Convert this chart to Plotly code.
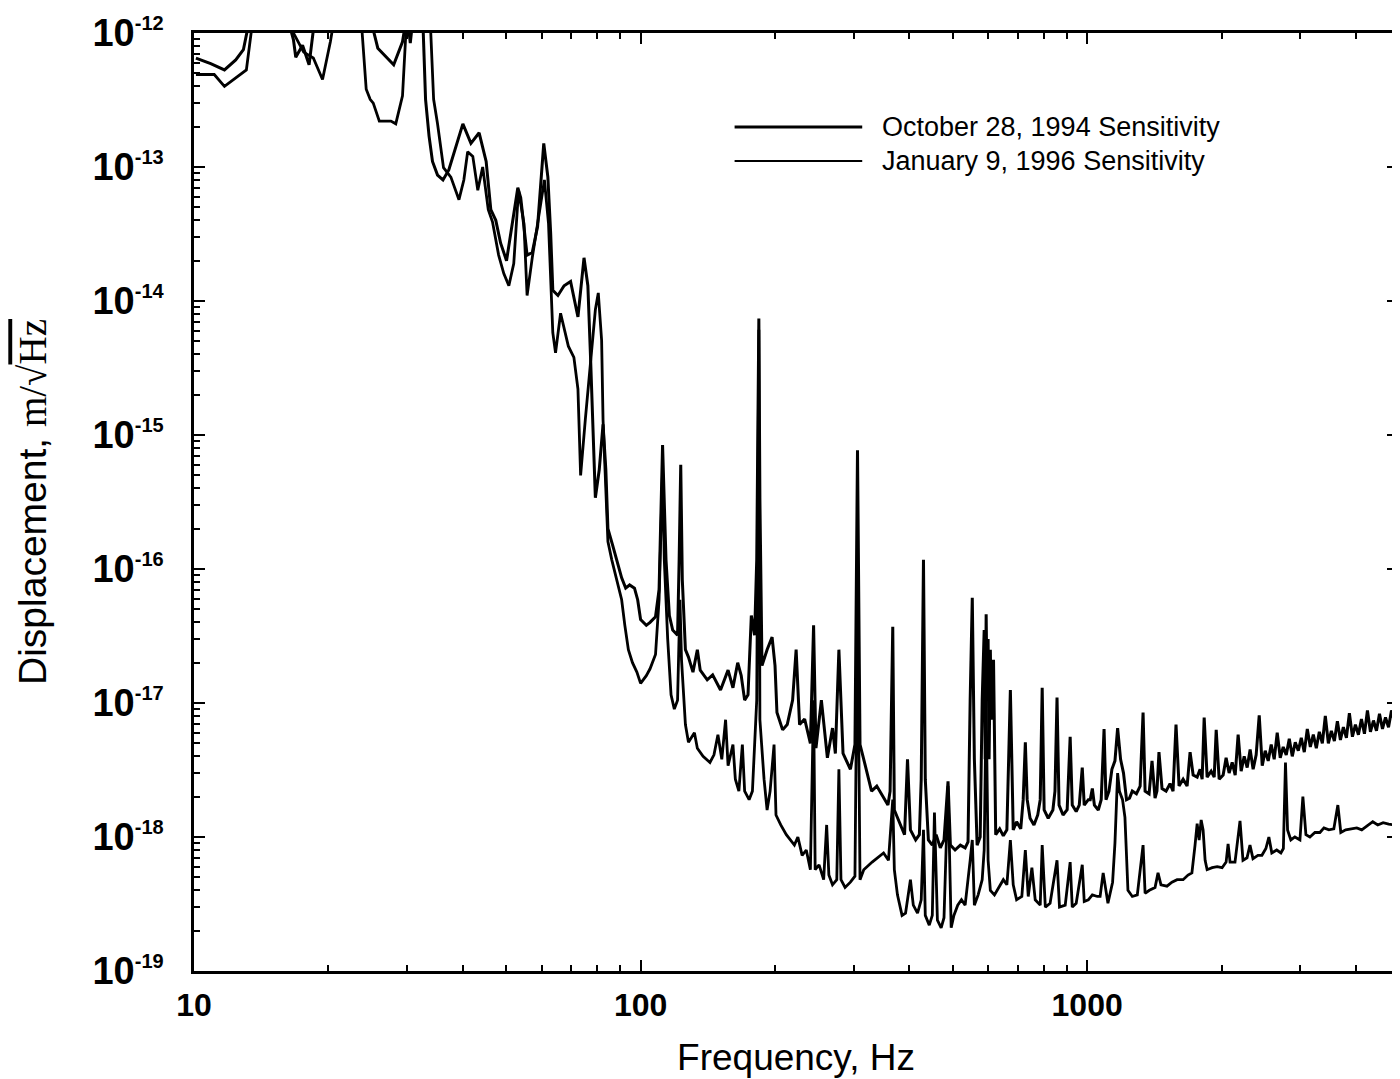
import math
import plotly.graph_objects as go

# October 28, 1994 sensitivity: (frequency in Hz, displacement in m/sqrt(Hz))
oct1994 = [
    (10.1, 6.5e-13), (10.9, 5.9e-13), (11.7, 5.3e-13), (12.4, 6.3e-13), (12.9, 7.5e-13),
    (13.4, 1.4e-12), (16.1, 1.4e-12), (16.7, 8.9e-13), (16.9, 6.6e-13), (17.5, 8.1e-13),
    (18.1, 5.8e-13), (18.7, 1.4e-12), (24.9, 1.4e-12), (25.3, 1.0e-12), (25.8, 7.7e-13),
    (26.9, 6.6e-13), (28.0, 5.8e-13), (29.3, 8.6e-13), (30.0, 1.4e-12), (30.5, 8.4e-13),
    (31.0, 1.4e-12), (32.5, 1.4e-12), (33.0, 3.2e-13), (33.6, 1.7e-13), (34.2, 1.1e-13),
    (35.1, 8.7e-14), (36.1, 8.0e-14), (37.2, 9.5e-14), (38.5, 1.4e-13), (40.0, 2.1e-13),
    (41.7, 1.5e-13), (43.5, 1.8e-13), (45.1, 1.1e-13), (46.2, 4.8e-14), (47.4, 4.0e-14),
    (48.6, 2.7e-14), (50.1, 2.0e-14), (51.7, 3.8e-14), (53.1, 7.0e-14), (53.9, 5.9e-14),
    (55.7, 2.2e-14), (57.2, 2.3e-14), (58.8, 3.6e-14), (60.7, 1.5e-13), (62.0, 8.4e-14),
    (62.9, 3.2e-14), (63.6, 1.2e-14), (65.3, 1.1e-14), (67.4, 1.3e-14), (69.7, 1.4e-14),
    (72.4, 7.6e-15), (74.7, 2.1e-14), (76.2, 1.3e-14), (77.3, 3.6e-15), (78.5, 9.2e-16),
    (79.2, 3.4e-16), (80.8, 5.5e-16), (82.4, 1.2e-15), (83.6, 5.5e-16), (84.5, 2.0e-16),
    (86.6, 1.5e-16), (88.9, 1.07e-16), (90.7, 8.6e-17), (92.6, 7.2e-17), (94.5, 7.6e-17),
    (96.9, 7.2e-17), (98.5, 5.9e-17), (100, 4.2e-17), (103, 3.8e-17), (105, 4.0e-17),
    (108, 4.4e-17), (110, 7.0e-17), (111, 2.3e-16), (112, 8.4e-16), (114, 1.17e-16),
    (116, 4.5e-17), (118, 3.5e-17), (121, 3.2e-17), (122, 1.17e-16), (123, 6.0e-16),
    (124, 8.3e-17), (126, 2.5e-17), (128, 2.2e-17), (131, 1.7e-17), (134, 2.5e-17),
    (136, 1.76e-17), (141, 1.49e-17), (145, 1.62e-17), (151, 1.25e-17), (157, 1.76e-17),
    (161, 1.3e-17), (165, 2.0e-17), (168, 1.6e-17), (171, 1.05e-17), (174, 1.15e-17),
    (177, 4.5e-17), (180, 3.2e-17), (182, 1.17e-16), (184, 7.4e-15), (185, 3.3e-16),
    (187, 1.9e-17), (192, 2.5e-17), (197, 3.1e-17), (200, 1.9e-17), (202, 8.5e-18),
    (208, 6.3e-18), (213, 6.9e-18), (219, 1.05e-17), (223, 2.5e-17), (227, 6.9e-18),
    (233, 7.6e-18), (240, 5.0e-18), (244, 3.8e-17), (247, 4.6e-18), (254, 1.05e-17),
    (262, 3.9e-18), (269, 6.5e-18), (273, 4.2e-18), (278, 2.5e-17), (284, 4.2e-18),
    (295, 3.2e-18), (302, 4.9e-18), (306, 7.7e-16), (310, 4.9e-18), (316, 3.8e-18),
    (329, 2.2e-18), (338, 2.4e-18), (352, 1.9e-18), (358, 1.73e-18), (362, 2.2e-18),
    (367, 3.7e-17), (370, 1.59e-18), (382, 1.23e-18), (390, 1.04e-18), (396, 3.8e-18),
    (402, 1.13e-18), (413, 9.5e-19), (421, 1.04e-18), (425, 2.7e-18), (430, 1.17e-16),
    (434, 2.7e-18), (441, 9.5e-19), (450, 8.7e-19), (459, 1.04e-18), (469, 8.3e-19),
    (478, 9.5e-19), (488, 2.6e-18), (494, 8.7e-19), (506, 8.0e-19), (520, 8.7e-19),
    (533, 8.3e-19), (541, 9.2e-19), (547, 1.05e-17), (553, 6.1e-17), (559, 3.8e-18),
    (567, 8.7e-19), (576, 1.0e-18), (582, 1.05e-17), (588, 3.5e-17), (591, 3.8e-18),
    (594, 4.6e-17), (597, 1.05e-17), (600, 3.0e-17), (603, 3.8e-18), (607, 2.5e-17),
    (610, 7.5e-18), (617, 2.1e-17), (624, 1.04e-18), (637, 1.15e-18), (649, 1.02e-18),
    (661, 1.13e-18), (673, 1.25e-17), (683, 1.13e-18), (695, 1.3e-18), (710, 1.15e-18),
    (719, 1.9e-18), (727, 5.1e-18), (734, 1.9e-18), (745, 1.38e-18), (760, 1.23e-18),
    (775, 1.46e-18), (785, 1.9e-18), (793, 1.3e-17), (801, 1.59e-18), (818, 1.38e-18),
    (838, 1.59e-18), (847, 2.2e-18), (856, 1.1e-17), (865, 1.73e-18), (883, 1.46e-18),
    (902, 1.6e-18), (916, 5.6e-18), (926, 1.73e-18), (945, 1.55e-18), (960, 1.73e-18),
    (975, 3.3e-18), (985, 1.73e-18), (1006, 1.9e-18), (1016, 1.9e-18), (1027, 2.3e-18),
    (1038, 1.73e-18), (1059, 1.59e-18), (1075, 1.9e-18), (1091, 6.4e-18), (1102, 1.9e-18),
    (1119, 2.2e-18), (1136, 3.2e-18), (1154, 3.7e-18), (1170, 6.5e-18), (1188, 3.8e-18),
    (1206, 3.0e-18), (1225, 1.9e-18), (1244, 1.95e-18), (1262, 2.2e-18), (1289, 2.1e-18),
    (1314, 2.4e-18), (1334, 8.5e-18), (1348, 2.2e-18), (1376, 2.1e-18), (1397, 3.7e-18),
    (1419, 1.95e-18), (1433, 2.2e-18), (1448, 4.3e-18), (1471, 2.3e-18), (1502, 2.2e-18),
    (1533, 2.5e-18), (1557, 2.2e-18), (1581, 6.9e-18), (1606, 2.4e-18), (1640, 2.7e-18),
    (1674, 2.4e-18), (1700, 4.3e-18), (1727, 2.9e-18), (1763, 2.8e-18), (1790, 3.2e-18),
    (1809, 2.7e-18), (1828, 7.8e-18), (1856, 2.8e-18), (1895, 3.1e-18), (1925, 2.8e-18),
    (1945, 6.3e-18), (1975, 2.7e-18), (2016, 2.9e-18), (2047, 3.9e-18), (2079, 3.0e-18),
    (2112, 3.6e-18), (2145, 2.9e-18), (2178, 5.8e-18), (2212, 3.1e-18), (2247, 4.0e-18),
    (2282, 3.3e-18), (2317, 4.5e-18), (2353, 3.2e-18), (2390, 4.1e-18), (2428, 8.1e-18),
    (2466, 3.4e-18), (2504, 4.4e-18), (2543, 3.7e-18), (2583, 4.9e-18), (2623, 3.8e-18),
    (2664, 6.0e-18), (2706, 3.9e-18), (2748, 4.7e-18), (2791, 4.1e-18), (2835, 5.4e-18),
    (2879, 4.0e-18), (2924, 5.1e-18), (2970, 4.4e-18), (3016, 5.5e-18), (3063, 4.3e-18),
    (3111, 6.4e-18), (3160, 4.7e-18), (3209, 5.8e-18), (3259, 4.6e-18), (3310, 6.1e-18),
    (3362, 5.0e-18), (3414, 8.0e-18), (3468, 5.0e-18), (3522, 6.2e-18), (3577, 5.2e-18),
    (3633, 7.3e-18), (3690, 5.3e-18), (3747, 6.6e-18), (3806, 5.5e-18), (3865, 8.4e-18),
    (3926, 5.6e-18), (3987, 6.9e-18), (4049, 5.8e-18), (4113, 7.6e-18), (4177, 5.9e-18),
    (4242, 8.8e-18), (4308, 6.1e-18), (4376, 7.4e-18), (4444, 6.2e-18), (4514, 8.3e-18),
    (4584, 6.4e-18), (4656, 7.8e-18), (4729, 6.6e-18), (4802, 8.8e-18), (4878, 7.2e-18),
    (4954, 9.0e-18),
]

# January 9, 1996 sensitivity: (frequency in Hz, displacement in m/sqrt(Hz))
jan1996 = [
    (10.1, 4.9e-13), (10.5, 4.9e-13), (11.1, 4.9e-13), (11.7, 4.0e-13), (12.4, 4.6e-13),
    (13.1, 5.3e-13), (13.6, 1.4e-12), (16.3, 1.4e-12), (16.7, 1.0e-12), (17.6, 7.2e-13),
    (18.5, 6.5e-13), (19.4, 4.5e-13), (20.2, 8.6e-13), (20.7, 1.4e-12), (23.4, 1.4e-12),
    (23.8, 1.0e-12), (24.3, 3.8e-13), (24.8, 3.2e-13), (25.2, 3.0e-13), (26.0, 2.2e-13),
    (26.9, 2.2e-13), (27.6, 2.2e-13), (28.3, 2.1e-13), (29.3, 3.4e-13), (29.8, 9.7e-13),
    (30.1, 1.4e-12), (33.6, 1.4e-12), (33.9, 1.0e-12), (34.4, 3.2e-13), (35.1, 2.1e-13),
    (36.2, 9.9e-14), (37.6, 8.4e-14), (39.2, 5.7e-14), (40.2, 8.0e-14), (41.0, 1.3e-13),
    (42.1, 1.2e-13), (43.2, 6.7e-14), (44.3, 1.0e-13), (45.6, 4.8e-14), (46.6, 3.9e-14),
    (48.1, 2.2e-14), (49.4, 1.6e-14), (50.7, 1.3e-14), (52.0, 1.9e-14), (53.3, 6.7e-14),
    (54.8, 3.8e-14), (55.7, 1.1e-14), (57.2, 2.1e-14), (59.8, 5.4e-14), (60.9, 8.0e-14),
    (62.2, 3.8e-14), (63.6, 5.8e-15), (64.5, 4.1e-15), (66.2, 8.1e-15), (68.9, 4.6e-15),
    (70.9, 3.8e-15), (72.4, 2.2e-15), (73.4, 5.0e-16), (75.2, 1.3e-15), (77.3, 3.6e-15),
    (79.2, 8.6e-15), (80.4, 1.15e-14), (81.8, 5.1e-15), (82.4, 1.3e-15), (83.3, 4.6e-16),
    (84.5, 1.6e-16), (86.2, 1.17e-16), (88.5, 8.3e-17), (90.7, 5.9e-17), (92.2, 3.8e-17),
    (93.9, 2.5e-17), (95.9, 2.0e-17), (98.1, 1.7e-17), (100, 1.4e-17), (103, 1.6e-17),
    (105, 1.8e-17), (108, 2.3e-17), (110, 5.9e-17), (111, 2.3e-16), (112, 5.5e-16),
    (113, 1.17e-16), (115, 3.0e-17), (117, 1.15e-17), (119, 9.0e-18), (121, 1.05e-17),
    (122, 3.0e-17), (122.5, 5.9e-17), (123.5, 2.1e-17), (126, 6.9e-18), (128, 5.1e-18),
    (132, 6.0e-18), (134, 4.6e-18), (138, 4.0e-18), (143, 3.6e-18), (146, 4.1e-18),
    (149, 5.8e-18), (152, 3.8e-18), (155, 7.5e-18), (157, 3.4e-18), (161, 4.9e-18),
    (163, 2.7e-18), (166, 2.2e-18), (169, 4.9e-18), (171, 2.2e-18), (175, 1.9e-18),
    (178, 2.2e-18), (180, 4.5e-18), (182, 1.05e-17), (184, 6.1e-15), (185, 7.5e-18),
    (189, 2.7e-18), (192, 1.59e-18), (195, 2.2e-18), (199, 4.9e-18), (201, 1.46e-18),
    (206, 1.23e-18), (212, 1.04e-18), (217, 9.5e-19), (221, 8.7e-19), (225, 1.0e-18),
    (230, 7.3e-19), (235, 8.0e-19), (240, 5.7e-19), (244, 1.05e-17), (246, 5.7e-19),
    (251, 6.2e-19), (257, 4.8e-19), (261, 1.23e-18), (264, 5.2e-19), (269, 4.4e-19),
    (275, 4.8e-19), (278, 3.2e-18), (281, 4.8e-19), (287, 4.2e-19), (295, 4.6e-19),
    (302, 5.1e-19), (306, 5.9e-17), (310, 4.8e-19), (316, 5.7e-19), (330, 6.5e-19),
    (342, 7.1e-19), (350, 7.6e-19), (359, 6.7e-19), (367, 1.9e-18), (370, 5.7e-19),
    (376, 3.7e-19), (385, 2.6e-19), (392, 2.7e-19), (402, 4.8e-19), (408, 3.1e-19),
    (417, 2.7e-19), (425, 3.4e-19), (430, 1.13e-18), (434, 2.6e-19), (443, 2.2e-19),
    (450, 2.6e-19), (455, 1.52e-18), (462, 2.4e-19), (471, 2.1e-19), (478, 2.5e-19),
    (488, 2.4e-18), (496, 2.1e-19), (503, 2.6e-19), (513, 3.1e-19), (523, 3.4e-19),
    (533, 3.1e-19), (547, 6.7e-19), (553, 9.5e-19), (559, 3.1e-19), (570, 3.7e-19),
    (582, 4.8e-19), (588, 8.0e-19), (594, 1.05e-17), (600, 6.7e-19), (607, 4.0e-19),
    (620, 3.7e-19), (634, 4.2e-19), (649, 4.8e-19), (661, 4.4e-19), (673, 9.5e-19),
    (683, 4.4e-19), (695, 3.4e-19), (714, 3.6e-19), (727, 8.0e-19), (738, 3.6e-19),
    (752, 5.9e-19), (765, 3.4e-19), (785, 3.1e-19), (793, 8.7e-19), (806, 3.0e-19),
    (826, 3.2e-19), (856, 6.7e-19), (867, 3.0e-19), (893, 3.1e-19), (916, 6.5e-19),
    (926, 3.0e-19), (945, 3.2e-19), (975, 6.2e-19), (985, 3.3e-19), (1006, 3.4e-19),
    (1027, 3.7e-19), (1054, 3.6e-19), (1069, 3.6e-19), (1086, 5.4e-19), (1113, 3.2e-19),
    (1140, 4.6e-19), (1154, 9.0e-19), (1170, 3.0e-18), (1181, 2.2e-18), (1200, 1.9e-18),
    (1215, 1.4e-18), (1234, 4.0e-19), (1262, 3.6e-19), (1295, 3.7e-19), (1334, 8.7e-19),
    (1348, 3.8e-19), (1378, 4.0e-19), (1419, 4.2e-19), (1441, 5.4e-19), (1463, 4.4e-19),
    (1509, 4.3e-19), (1548, 4.6e-19), (1590, 4.8e-19), (1640, 4.8e-19), (1682, 5.2e-19),
    (1716, 5.4e-19), (1744, 8.7e-19), (1763, 1.26e-18), (1781, 9.5e-19), (1800, 1.34e-18),
    (1818, 1.13e-18), (1837, 6.7e-19), (1856, 5.7e-19), (1905, 5.9e-19), (1955, 6.0e-19),
    (2005, 5.9e-19), (2047, 6.5e-19), (2068, 8.9e-19), (2089, 6.5e-19), (2143, 6.5e-19),
    (2199, 1.32e-18), (2233, 6.7e-19), (2280, 7.0e-19), (2315, 8.7e-19), (2351, 6.9e-19),
    (2412, 7.3e-19), (2462, 7.3e-19), (2513, 8.2e-19), (2552, 1.0e-18), (2591, 7.6e-19),
    (2657, 8.0e-19), (2715, 7.6e-19), (2750, 8.2e-19), (2780, 3.6e-18), (2810, 1.13e-18),
    (2858, 9.5e-19), (2918, 1.0e-18), (2995, 9.5e-19), (3041, 2.0e-18), (3089, 1.04e-18),
    (3153, 1.0e-18), (3236, 1.08e-18), (3320, 1.08e-18), (3390, 1.17e-18), (3477, 1.13e-18),
    (3567, 1.15e-18), (3642, 1.73e-18), (3698, 1.08e-18), (3793, 1.13e-18), (3913, 1.15e-18),
    (4015, 1.17e-18), (4120, 1.13e-18), (4228, 1.2e-18), (4360, 1.3e-18), (4474, 1.23e-18),
    (4600, 1.28e-18), (4733, 1.25e-18), (4860, 1.23e-18), (4966, 9.5e-19),
]

series_names = ["October 28, 1994 Sensitivity", "January 9, 1996 Sensitivity"]
x_range_hz = [10, 4966]
x_tick_vals = [10, 100, 1000]
x_tick_text = ["10", "100", "1000"]
y_exponents = [-19, -18, -17, -16, -15, -14, -13, -12]

SANS = "Liberation Sans, Arial, Helvetica, sans-serif"

y_tick_vals = [10.0 ** e for e in y_exponents]
y_tick_text = ["10<sup><span style='font-size:20px'>%d</span></sup>" % e for e in y_exponents]
y_minor_vals = [m * 10.0 ** e for e in y_exponents[:-1] for m in range(2, 10)]
x_minor_vals = [m * 10.0 ** e for e in (1, 2, 3) for m in range(2, 10) if m * 10.0 ** e < x_range_hz[1]]

fig = go.Figure()
for name, data, width in [(series_names[0], oct1994, 3.0), (series_names[1], jan1996, 2.8)]:
    f = [p[0] for p in data]
    d = [p[1] for p in data]
    fig.add_trace(go.Scatter(x=f, y=d, mode="lines", name=name,
                             line=dict(color="black", width=width)))

axis_common = dict(
    type="log", tickmode="array",
    ticks="inside", ticklen=11, tickwidth=2, tickcolor="black",
    showline=True, linewidth=2.5, linecolor="black", mirror="ticks",
    showgrid=False, zeroline=False, automargin=False,
    ticklabeloverflow="allow",
)

fig.update_xaxes(
    **axis_common,
    range=[math.log10(x_range_hz[0]), math.log10(x_range_hz[1])],
    tickvals=x_tick_vals, ticktext=x_tick_text,
    minor=dict(tickmode="array", tickvals=x_minor_vals, ticks="inside", ticklen=6,
               tickwidth=1.5, tickcolor="black", showgrid=False),
    tickfont=dict(size=32, family=SANS, color="black", weight="bold"),
    ticklabelstandoff=4,
    title=dict(text="Frequency, Hz", font=dict(size=37, family=SANS, color="black"),
               standoff=22),
)
fig.update_yaxes(
    **axis_common,
    range=[-19, -12],
    tickvals=y_tick_vals, ticktext=y_tick_text,
    minor=dict(tickmode="array", tickvals=y_minor_vals, ticks="inside", ticklen=6,
               tickwidth=1.5, tickcolor="black", showgrid=False),
    tickfont=dict(size=38, family=SANS, color="black", weight="bold"),
    ticklabelstandoff=20,
    title=dict(text="Displacement, <span style='font-family:Liberation Serif, Times New Roman, serif'>m/√<span style='text-decoration:overline'>Hz</span></span>",
               font=dict(size=39, family=SANS, color="black"),
               standoff=34),
)

# legend drawn as sample lines plus labels
legend_rows = [(0.8998, 3.0), (0.8635, 2.0)]
for (yp, lw), label in zip(legend_rows, series_names):
    fig.add_shape(type="line", xref="paper", yref="paper", x0=0.449, x1=0.555, y0=yp, y1=yp,
                  line=dict(color="black", width=lw))
    fig.add_annotation(xref="paper", yref="paper", x=0.5698, y=yp, text=label, showarrow=False,
                       xanchor="left", yanchor="middle",
                       font=dict(size=27, family=SANS, color="black"))

# page body adds an 8px offset, so the figure is sized to end at the window edge
fig.update_layout(
    width=1392, height=1071,
    margin=dict(l=186, r=2, t=25, b=108),
    paper_bgcolor="white", plot_bgcolor="white",
    showlegend=False,
    font=dict(family=SANS, color="black"),
)

fig.write_html("out.html")
